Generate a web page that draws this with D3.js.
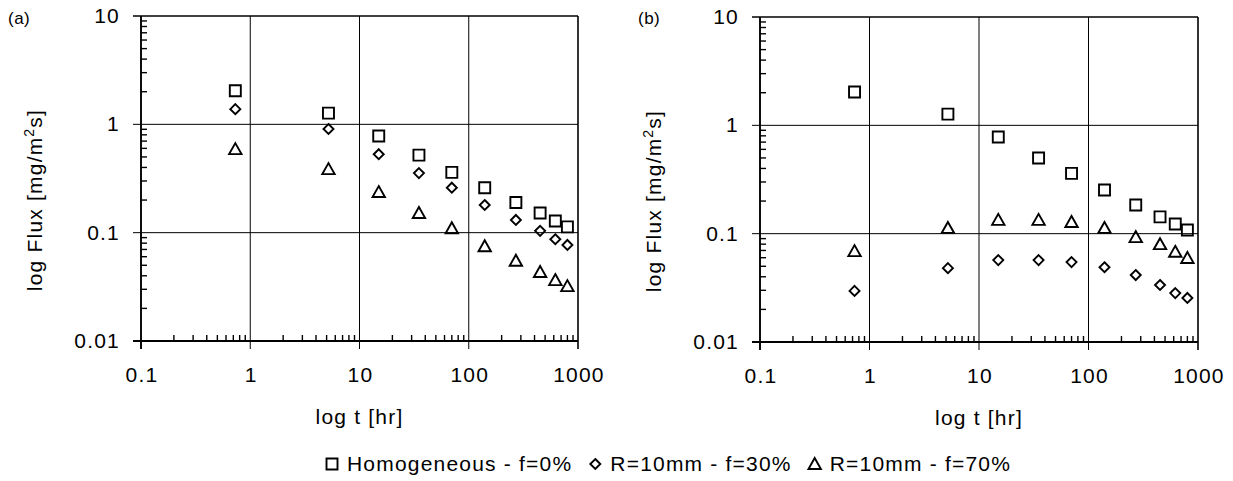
<!DOCTYPE html>
<html>
<head>
<meta charset="utf-8">
<script src="https://d3js.org/d3.v7.min.js"></script>
<style>
  body { margin: 0; background: #fff; }
  svg { display: block; font-family: "Liberation Sans", Arial, sans-serif; }
  text { letter-spacing: 1.2px; }
</style>
</head>
<body>
<div id="chart"></div>
<script>
// time points [hr]
const times = [0.73, 5.2, 15, 35, 70, 140, 270, 450, 620, 800];

// panel (a)
const fluxA_homog = [2.04, 1.27, 0.78, 0.52, 0.36, 0.26, 0.19, 0.152, 0.128, 0.113];
const fluxA_f30   = [1.38, 0.905, 0.53, 0.355, 0.26, 0.18, 0.131, 0.104, 0.087, 0.077];
const fluxA_f70   = [0.59, 0.386, 0.237, 0.152, 0.110, 0.075, 0.055, 0.0433, 0.0365, 0.0321];

// panel (b)
const fluxB_homog = [2.03, 1.27, 0.78, 0.50, 0.36, 0.253, 0.184, 0.143, 0.123, 0.108];
const fluxB_f30   = [0.0296, 0.048, 0.057, 0.057, 0.0547, 0.049, 0.0415, 0.0336, 0.0283, 0.0255];
const fluxB_f70   = [0.069, 0.113, 0.134, 0.134, 0.128, 0.113, 0.093, 0.080, 0.068, 0.0596];

const seriesNames = ["Homogeneous - f=0%", "R=10mm - f=30%", "R=10mm - f=70%"];
const seriesShapes = ["square", "diamond", "triangle"];

const xTicks = [0.1, 1, 10, 100, 1000];
const yTicks = [0.01, 0.1, 1, 10];
const xTickLabels = ["0.1", "1", "10", "100", "1000"];
const yTickLabels = ["0.01", "0.1", "1", "10"];

const width = 1233, height = 481;
const fontSize = 21;

const svg = d3.select("#chart").append("svg")
    .attr("width", width)
    .attr("height", height);

// marker path for each shape, centred at 0,0
function shapePath(shape) {
    if (shape === "square") return "M-5.5,-5.5H5.5V5.5H-5.5Z";
    if (shape === "diamond") return "M0,-5L5,0L0,5L-5,0Z";
    return "M0,-6L6.2,5H-6.2Z";
}

function drawPanel(opts) {
    const x = d3.scaleLog().domain([0.1, 1000]).range([opts.left, opts.right]);
    const y = d3.scaleLog().domain([0.01, 10]).range([opts.bottom, opts.top]);
    const g = svg.append("g");

    // minor ticks
    const minorX = [];
    for (let d = 0.1; d < 1000; d *= 10)
        for (let k = 2; k <= 9; k++) minorX.push(d * k);
    const minorY = [];
    for (let d = 0.01; d < 10; d *= 10)
        for (let k = 2; k <= 9; k++) minorY.push(d * k);

    g.selectAll(".mx").data(minorX).enter().append("line")
        .attr("x1", d => x(d)).attr("x2", d => x(d))
        .attr("y1", opts.bottom).attr("y2", opts.bottom - 6)
        .attr("stroke", "#000").attr("stroke-width", 1.4);
    g.selectAll(".my").data(minorY).enter().append("line")
        .attr("y1", d => y(d)).attr("y2", d => y(d))
        .attr("x1", opts.left).attr("x2", opts.left + 6)
        .attr("stroke", "#000").attr("stroke-width", 1.4);

    // grid lines at decades
    g.selectAll(".gx").data(xTicks).enter().append("line")
        .attr("x1", d => x(d)).attr("x2", d => x(d))
        .attr("y1", opts.top).attr("y2", opts.bottom + 8)
        .attr("stroke", "#000").attr("stroke-width", d => d === 1000 ? 1.6 : 1);
    g.selectAll(".gy").data(yTicks).enter().append("line")
        .attr("y1", d => y(d)).attr("y2", d => y(d))
        .attr("x1", opts.left - 8).attr("x2", opts.right)
        .attr("stroke", "#000").attr("stroke-width", d => d === 10 ? 1.4 : 1);

    // axis lines
    g.append("line").attr("x1", opts.left).attr("x2", opts.left)
        .attr("y1", opts.top).attr("y2", opts.bottom + 8)
        .attr("stroke", "#000").attr("stroke-width", 1.8);
    g.append("line").attr("x1", opts.left - 8).attr("x2", opts.right)
        .attr("y1", opts.bottom).attr("y2", opts.bottom)
        .attr("stroke", "#000").attr("stroke-width", 1.8);

    // tick labels
    g.selectAll(".xl").data(xTicks).enter().append("text")
        .attr("x", d => x(d) + 1).attr("y", opts.bottom + 41)
        .attr("text-anchor", "middle").attr("font-size", fontSize)
        .text((d, i) => xTickLabels[i]);
    g.selectAll(".yl").data(yTicks).enter().append("text")
        .attr("x", opts.left - 21).attr("y", d => y(d) + 7)
        .attr("text-anchor", "end").attr("font-size", fontSize)
        .text((d, i) => yTickLabels[i]);

    // axis titles
    g.append("text")
        .attr("x", (opts.left + opts.right) / 2).attr("y", opts.bottom + 83)
        .attr("text-anchor", "middle").attr("font-size", fontSize)
        .text("log t [hr]");
    const yt = g.append("text")
        .attr("transform", `translate(${opts.left - 99},${opts.top + 184}) rotate(-90)`)
        .attr("text-anchor", "middle").attr("font-size", fontSize);
    yt.append("tspan").text("log Flux [mg/m");
    yt.append("tspan").attr("dy", -8).attr("font-size", 14).text("2");
    yt.append("tspan").attr("dy", 8).text("s]");

    // panel letter
    g.append("text").attr("x", opts.labelX).attr("y", 24)
        .attr("font-size", 17).style("letter-spacing", "0.5px").text(opts.label);

    // data markers
    opts.series.forEach((vals, si) => {
        g.selectAll(null).data(vals).enter().append("path")
            .attr("d", shapePath(seriesShapes[si]))
            .attr("transform", (d, i) => `translate(${x(times[i])},${y(d)})`)
            .attr("fill", "none").attr("stroke", "#000").attr("stroke-width", 1.9);
    });
}

drawPanel({ left: 141, right: 578, top: 16, bottom: 341, label: "(a)", labelX: 8,
            series: [fluxA_homog, fluxA_f30, fluxA_f70] });
drawPanel({ left: 760, right: 1198, top: 17, bottom: 342, label: "(b)", labelX: 638,
            series: [fluxB_homog, fluxB_f30, fluxB_f70] });

// legend
const legend = svg.append("g");
let lx = 326;
seriesNames.forEach((name, i) => {
    legend.append("path")
        .attr("d", shapePath(seriesShapes[i]))
        .attr("transform", `translate(${lx + 6},464)`)
        .attr("fill", "none").attr("stroke", "#000").attr("stroke-width", 1.9);
    const t = legend.append("text")
        .attr("x", lx + 21).attr("y", 471)
        .attr("font-size", fontSize).text(name);
    lx += 21 + t.node().getComputedTextLength() + 17;
});
</script>
</body>
</html>
